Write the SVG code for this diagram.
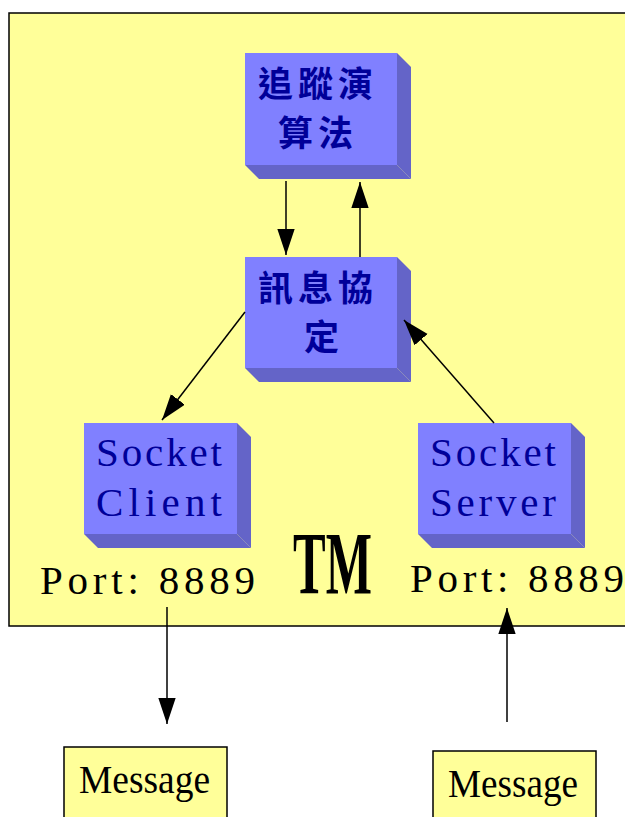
<svg xmlns="http://www.w3.org/2000/svg" width="625" height="817" viewBox="0 0 625 817">
<style>
.bg{fill:#FFFF99;stroke:#000;stroke-width:1.5}
.front{fill:#8080FF}
.side{fill:#6464C8}
.cjk{font-family:"Noto Sans CJK TC","Noto Sans CJK SC",sans-serif;font-size:35px;font-weight:700;fill:#000099;letter-spacing:5px}
.lat{font-family:"Liberation Serif",serif;font-size:41px;fill:#000099}
.port{font-family:"Liberation Serif",serif;font-size:41px;fill:#000}
.msg{font-family:"Liberation Serif",serif;font-size:40px;fill:#000}
.tm{font-family:"Liberation Serif",serif;font-size:55px;font-weight:700;fill:#000}
.conn{stroke:#000;stroke-width:1.5;fill:none;marker-end:url(#arr)}
</style>
<defs>
<marker id="arr" markerUnits="userSpaceOnUse" markerWidth="26" markerHeight="18" viewBox="0 0 24 16" refX="24" refY="8" orient="auto">
<path d="M0,0 L24,8 L0,16 Z" fill="#000"/>
</marker>
</defs>
<rect id="TM" class="bg" x="9" y="13" width="630" height="613"/>
<text class="tm" transform="translate(293,593) scale(0.89,1.6)" x="0" y="0">TM</text>

<g id="tracking">
<polygon class="side" points="397,53 411,67 411,179 397,165"/>
<polygon class="side" points="245,165 397,165 411,179 259,179"/>
<rect class="front" x="245" y="53" width="152" height="112"/>
<text class="cjk" x="258" y="97">追蹤演</text>
<text class="cjk" x="278" y="146">算法</text>
</g>

<g id="protocol">
<polygon class="side" points="397,257 411,271 411,382 397,368"/>
<polygon class="side" points="245,368 397,368 411,382 259,382"/>
<rect class="front" x="245" y="257" width="152" height="111"/>
<text class="cjk" x="258" y="301">訊息協</text>
<text class="cjk" x="304" y="350">定</text>
</g>

<g id="client">
<polygon class="side" points="237,423 251,437 251,548 237,534"/>
<polygon class="side" points="84,534 237,534 251,548 98,548"/>
<rect class="front" x="84" y="423" width="153" height="111"/>
<text class="lat" x="96" y="466" textLength="126" lengthAdjust="spacing">Socket</text>
<text class="lat" x="96" y="516" textLength="126" lengthAdjust="spacing">Client</text>
<text class="port" x="40" y="594" textLength="215" lengthAdjust="spacing">Port: 8889</text>
</g>

<g id="server">
<polygon class="side" points="571,423 585,437 585,548 571,534"/>
<polygon class="side" points="418,534 571,534 585,548 432,548"/>
<rect class="front" x="418" y="423" width="153" height="111"/>
<text class="lat" x="430" y="466" textLength="126" lengthAdjust="spacing">Socket</text>
<text class="lat" x="430" y="516" textLength="126" lengthAdjust="spacing">Server</text>
<text class="port" x="410" y="592" textLength="214" lengthAdjust="spacing">Port: 8889</text>
</g>

<g id="msg1">
<rect class="bg" x="64" y="747" width="163" height="80"/>
<text class="msg" x="79" y="793" textLength="131" lengthAdjust="spacingAndGlyphs">Message</text>
</g>
<g id="msg2">
<rect class="bg" x="433" y="751" width="163" height="80"/>
<text class="msg" x="448" y="797" textLength="130" lengthAdjust="spacingAndGlyphs">Message</text>
</g>

<g id="connectors">
<line class="conn" x1="286" y1="181" x2="286" y2="255"/>
<line class="conn" x1="360" y1="257" x2="360" y2="182"/>
<line class="conn" x1="245" y1="312" x2="162" y2="420"/>
<line class="conn" x1="494" y1="423" x2="404" y2="320"/>
<line class="conn" x1="167" y1="607" x2="167" y2="724"/>
<line class="conn" x1="507" y1="722" x2="507" y2="608"/>
</g>
</svg>
